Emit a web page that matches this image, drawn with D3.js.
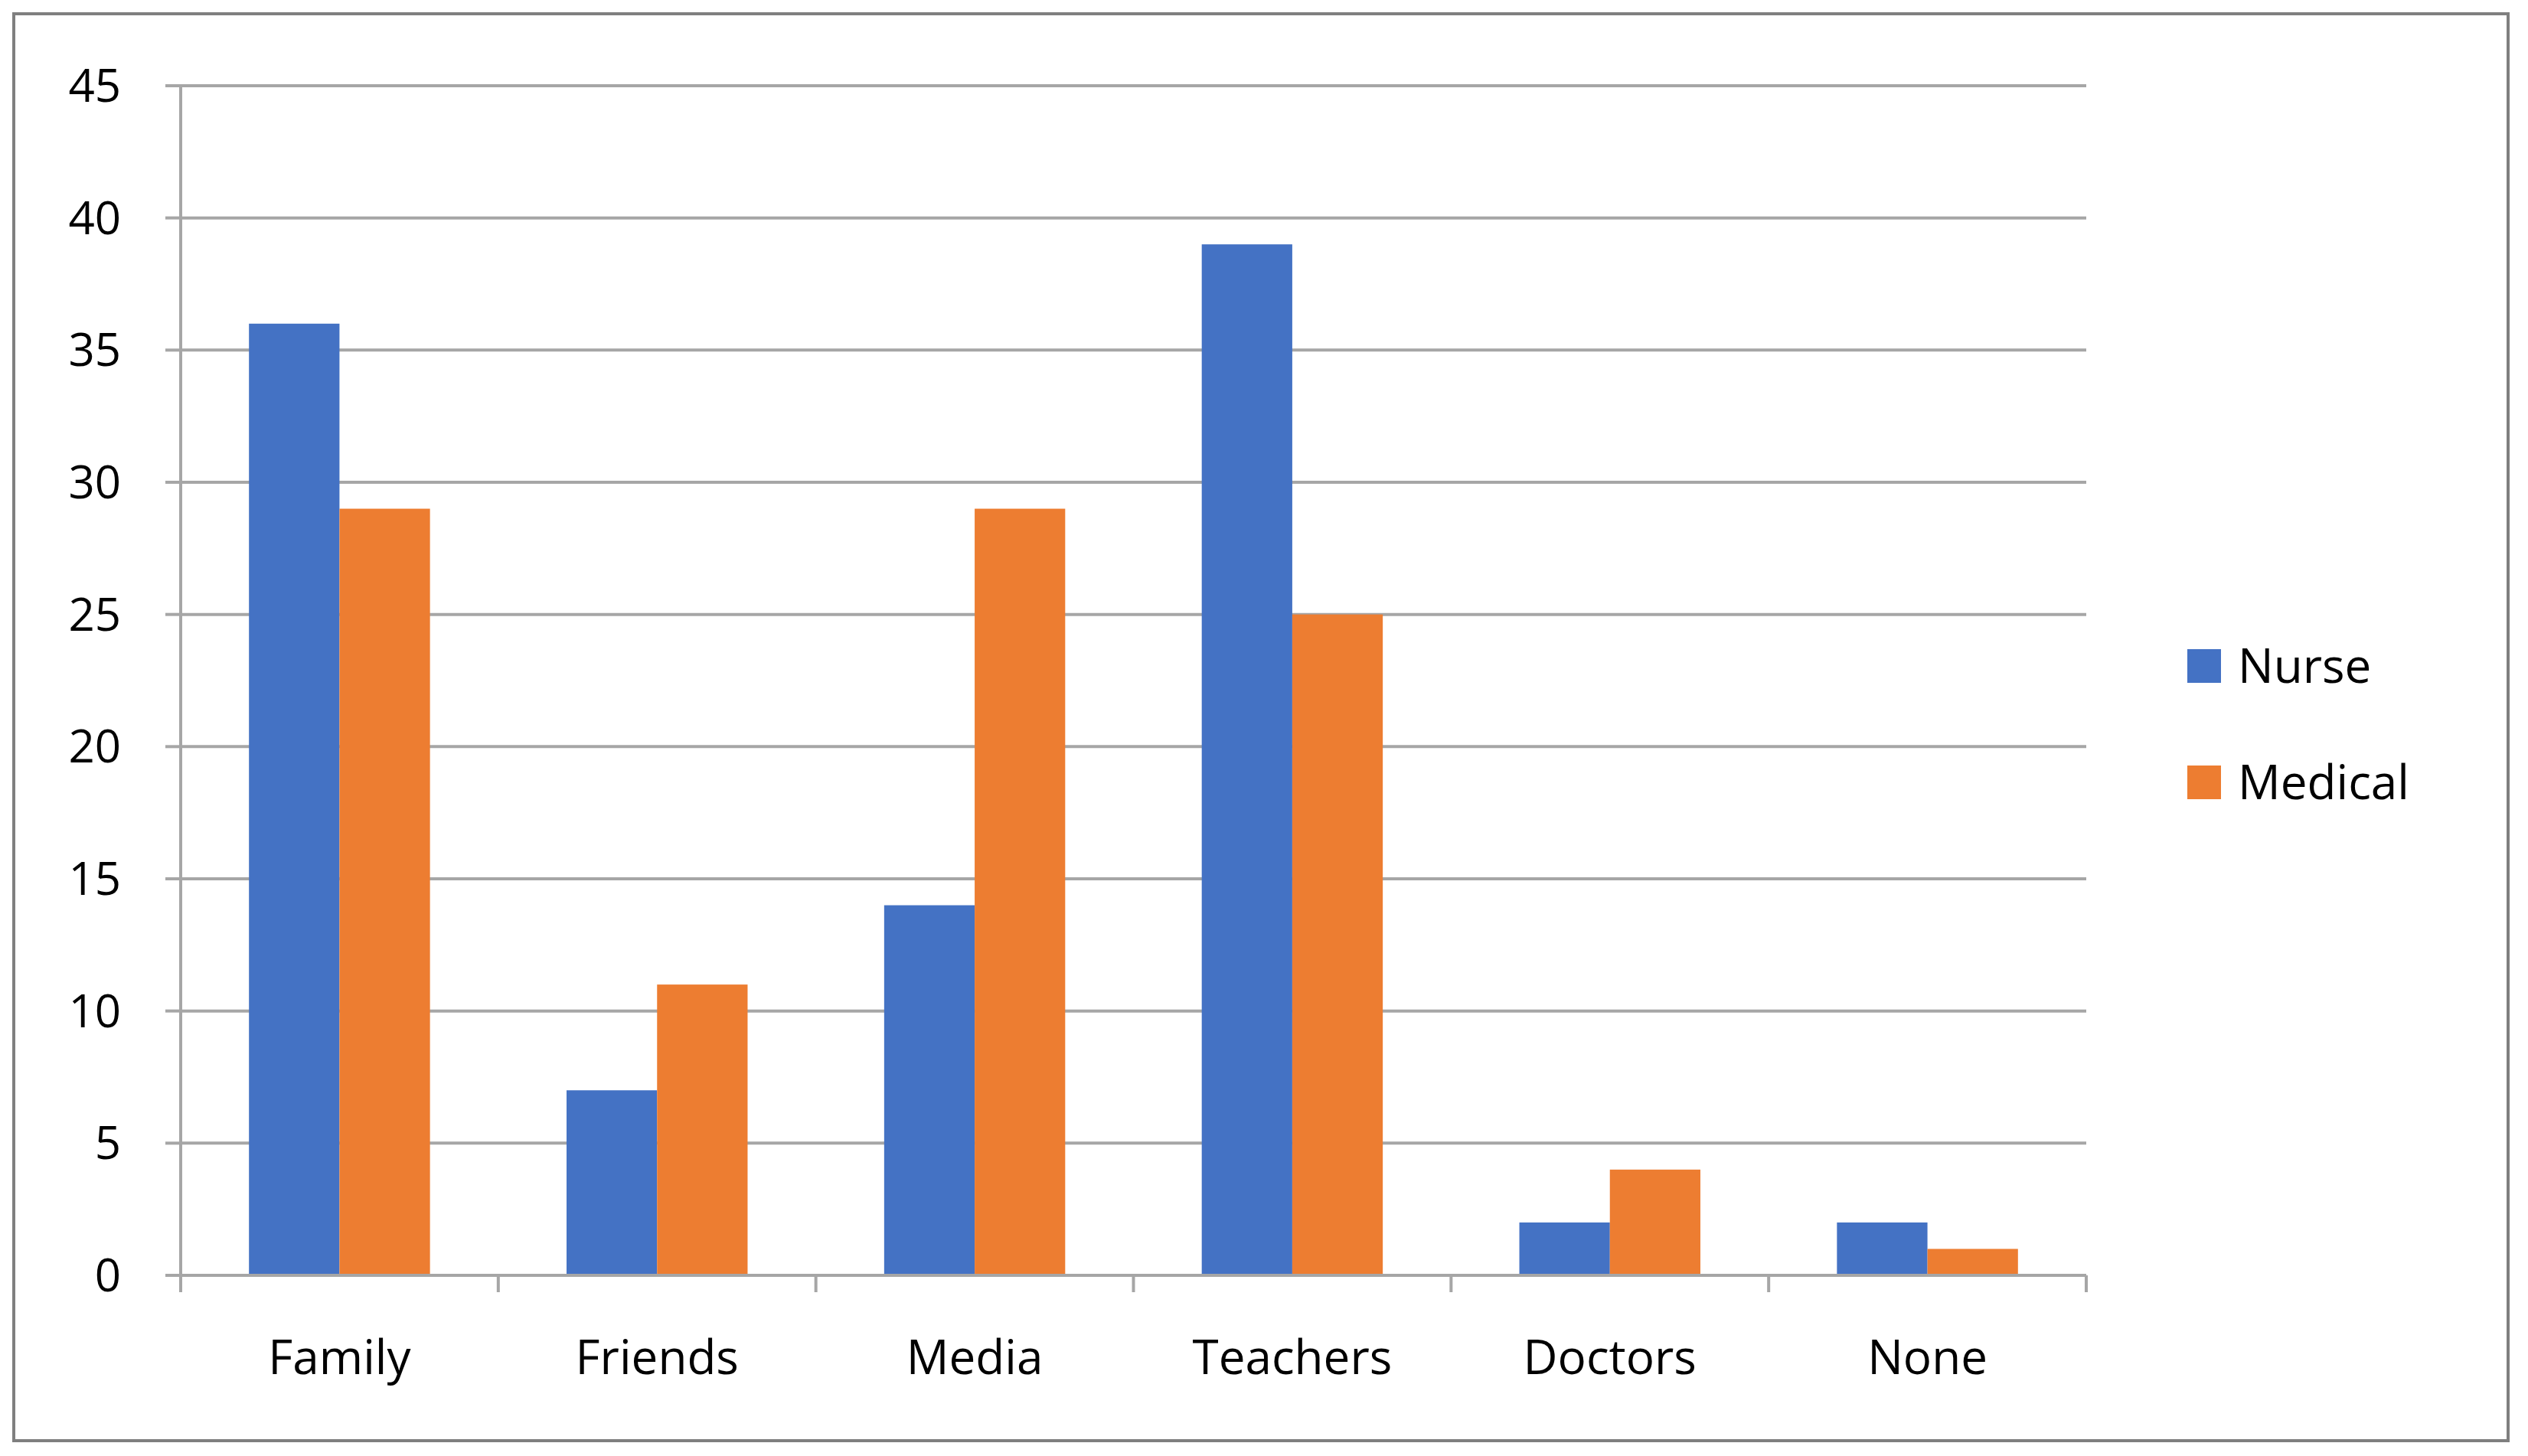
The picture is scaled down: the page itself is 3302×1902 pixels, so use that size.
<!DOCTYPE html>
<html><head><meta charset="utf-8">
<script src="https://cdn.jsdelivr.net/npm/d3@7"></script>
<style>body{margin:0;background:#fff}</style>
</head><body>
<script>
var categories = ["Family", "Friends", "Media", "Teachers", "Doctors", "None"];
var seriesNames = ["Nurse", "Medical"];
var nurse = [36, 7, 14, 39, 2, 2];
var medical = [29, 11, 29, 25, 4, 1];
var yTicks = [0, 5, 10, 15, 20, 25, 30, 35, 40, 45];
var colors = ["#4472c4", "#ed7d31"];

var W = 3302, H = 1902;
var svg = d3.select("body").append("svg").attr("width", W).attr("height", H)
    .style("font-family", "'Open Sans', Arial, sans-serif");

svg.append("rect").attr("x", 18).attr("y", 18).attr("width", 3258).attr("height", 1864)
    .attr("fill", "none").attr("stroke", "#7f7f7f").attr("stroke-width", 4);

var plotL = 236, plotR = 2725, plotT = 112, plotB = 1666;
var x = d3.scaleBand().domain(categories).range([plotL, plotR]);
var y = d3.scaleLinear().domain([0, 45]).range([plotB, plotT]);

// gridlines
svg.selectAll(".grid").data(yTicks).enter().append("line")
    .attr("x1", plotL).attr("x2", plotR)
    .attr("y1", function(d) { return y(d); }).attr("y2", function(d) { return y(d); })
    .attr("stroke", "#a6a6a6").attr("stroke-width", 4);

// y axis line
svg.append("line").attr("x1", plotL).attr("x2", plotL).attr("y1", plotT).attr("y2", plotB)
    .attr("stroke", "#a6a6a6").attr("stroke-width", 4);
svg.selectAll(".ytl").data(yTicks).enter().append("line")
    .attr("x1", plotL - 20).attr("x2", plotL)
    .attr("y1", function(d) { return y(d); }).attr("y2", function(d) { return y(d); })
    .attr("stroke", "#a6a6a6").attr("stroke-width", 4);
svg.selectAll(".ylab").data(yTicks).enter().append("text")
    .attr("x", 158).attr("y", function(d) { return y(d); }).attr("dy", "0.35em")
    .attr("text-anchor", "end").attr("font-size", 60).attr("fill", "#000")
    .text(function(d) { return d; });

// x tick marks at boundaries
var bounds = categories.map(function(c) { return x(c); }).concat([plotR]);
svg.selectAll(".xtl").data(bounds).enter().append("line")
    .attr("x1", function(d) { return d; }).attr("x2", function(d) { return d; })
    .attr("y1", plotB).attr("y2", plotB + 22)
    .attr("stroke", "#a6a6a6").attr("stroke-width", 4);

// bars
var groupW = x.bandwidth() * 0.57;
var sub = d3.scaleBand().domain(seriesNames).range([0, groupW]);
var rows = categories.map(function(c, i) { return {cat: c, vals: [nurse[i], medical[i]]}; });
var g = svg.selectAll(".grp").data(rows).enter().append("g")
    .attr("transform", function(d) { return "translate(" + (x(d.cat) + (x.bandwidth() - groupW) / 2) + ",0)"; });
g.selectAll("rect").data(function(d) { return d.vals.map(function(v, j) { return {s: seriesNames[j], v: v, j: j}; }); })
    .enter().append("rect")
    .attr("x", function(d) { return sub(d.s); }).attr("width", sub.bandwidth())
    .attr("y", function(d) { return y(d.v); }).attr("height", function(d) { return plotB - y(d.v); })
    .attr("fill", function(d) { return colors[d.j]; });

// x axis line over bars
svg.append("line").attr("x1", plotL).attr("x2", plotR).attr("y1", plotB).attr("y2", plotB)
    .attr("stroke", "#a6a6a6").attr("stroke-width", 4);

svg.selectAll(".xlab").data(categories).enter().append("text")
    .attr("x", function(d) { return x(d) + x.bandwidth() / 2; }).attr("y", 1795)
    .attr("text-anchor", "middle").attr("font-size", 62).attr("fill", "#000")
    .text(function(d) { return d; });

// legend
var leg = svg.selectAll(".leg").data(seriesNames).enter().append("g")
    .attr("transform", function(d, i) { return "translate(2857," + (870 + i * 152) + ")"; });
leg.append("rect").attr("x", 0).attr("y", -22).attr("width", 44).attr("height", 44)
    .attr("fill", function(d, i) { return colors[i]; });
leg.append("text").attr("x", 66).attr("y", 0).attr("dy", "0.35em")
    .attr("font-size", 62).attr("fill", "#000").text(function(d) { return d; });
</script>
</body></html>
